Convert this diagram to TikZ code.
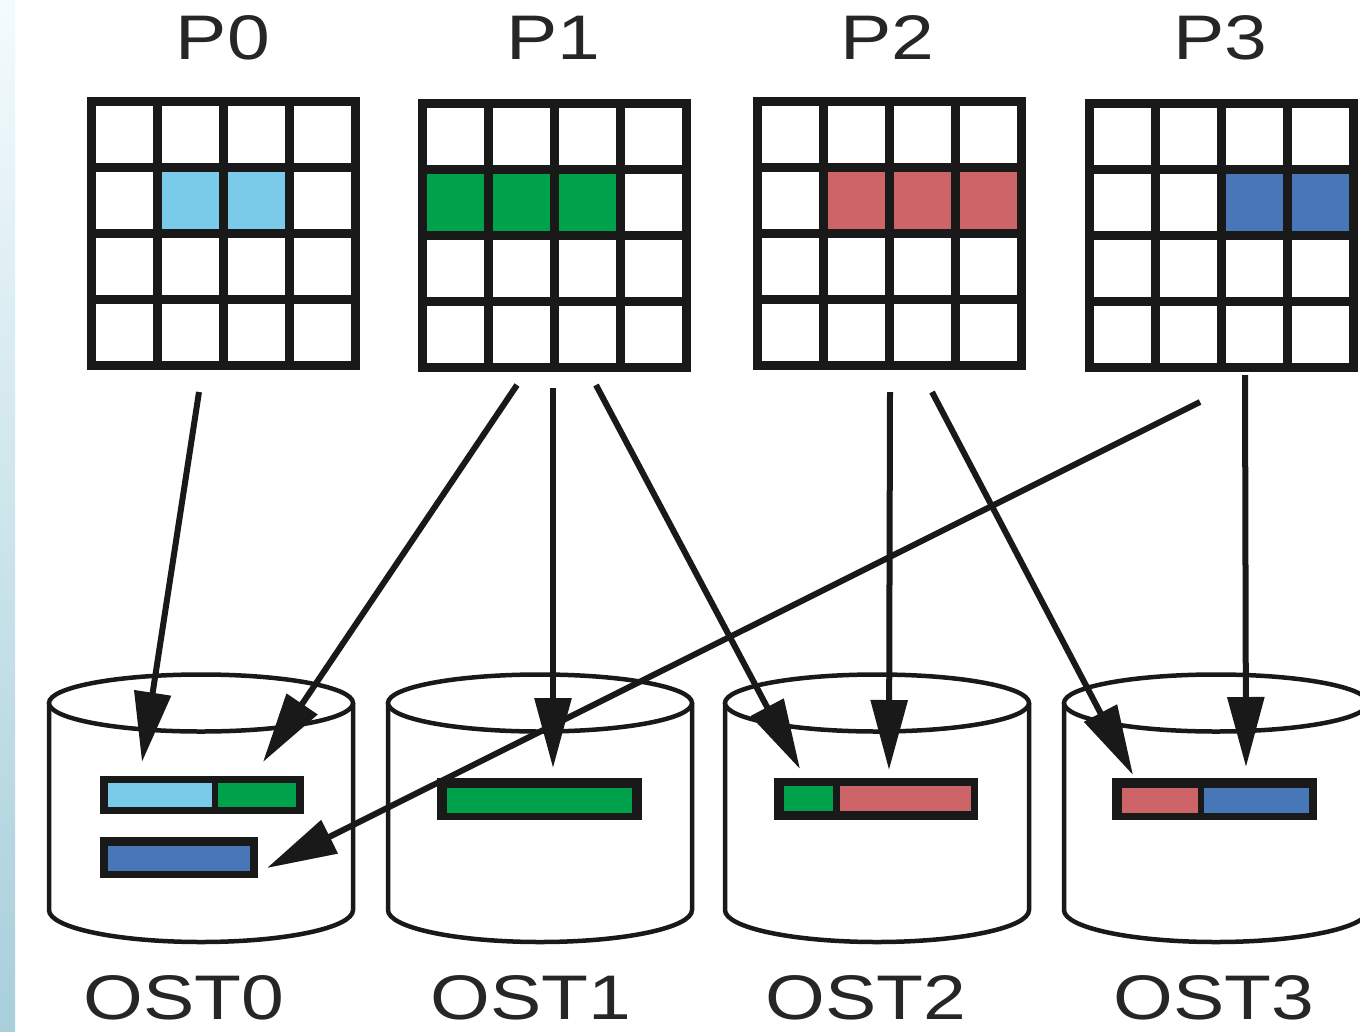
\documentclass[tikz,border=0pt]{standalone}
\usepackage{fontspec}
\setmainfont{Liberation Sans}
\usepackage{xcolor}
\usetikzlibrary{arrows.meta}

\definecolor{lightcell}{HTML}{7ACBEA}
\definecolor{greencell}{HTML}{00A14B}
\definecolor{redcell}{HTML}{CC6468}
\definecolor{bluecell}{HTML}{4777B6}
\definecolor{striptop}{HTML}{F3FBFD}
\definecolor{stripmid}{HTML}{EAF5F8}
\definecolor{stripbot}{HTML}{A8CFDB}

\tikzset{
  gridline/.style={line width=8.5pt, draw=black!90},
  disk/.style={line width=4.5pt, draw=black!90},
  flow/.style={line width=6pt, draw=black!90, -{Triangle[length=70pt, width=36pt]}},
  plabel/.style={font=\fontsize{63}{70}\selectfont, text=black!85, xscale=1.22},
}

\begin{document}
\begin{tikzpicture}[x=1pt, y=-1pt]

\useasboundingbox (0,0) rectangle (1360,1031);
\fill[white] (0,0) rectangle (1360,1031);

% left edge strip
\shade[top color=striptop, middle color=stripmid, bottom color=stripbot] (0,0) rectangle (15,1031);

\pgfmathsetmacro{\pitch}{66}
\pgfmathsetmacro{\half}{4.25}

% coloured cells of each process
\foreach \gx/\gy/\first/\last/\clr in {87/97/1/2/lightcell, 418/99/0/2/greencell, 753/97/1/3/redcell, 1085/99/2/3/bluecell} {
  \fill[\clr] (\gx+\half+\first*\pitch, \gy+\half+\pitch) rectangle (\gx+\half+\last*\pitch+\pitch, \gy+\half+2*\pitch);
}

% Draw the 4x4 grids
\foreach \gx/\gy in {87/97, 418/99, 753/97, 1085/99} {
  \foreach \k in {1,2,3} {
    \draw[gridline] (\gx+\half+\k*\pitch, \gy+\half) -- ++(0,4*\pitch);
    \draw[gridline] (\gx+\half, \gy+\half+\k*\pitch) -- ++(4*\pitch,0);
  }
  \draw[gridline] (\gx+\half, \gy+\half) rectangle ++(4*\pitch, 4*\pitch);
}

\node[plabel] (p0) at (223,38) {P0};
\node[plabel] (p1) at (553,38) {P1};
\node[plabel] (p2) at (887,38) {P2};
\node[plabel] (p3) at (1220,38) {P3};

% Draw the storage targets
\foreach \cx in {201, 540, 877, 1216} {
  \fill[white] (\cx-152,703) rectangle (\cx+152,910);
  \draw[disk, fill=white] (\cx-152,703) -- (\cx-152,910) arc[start angle=180, end angle=0, x radius=152, y radius=32] -- (\cx+152,703);
  \draw[disk, fill=white] (\cx,703) ellipse[x radius=152, y radius=28.5];
}

% stripes stored on each target
\fill[black!90] (100,776) rectangle (304,814);
\fill[lightcell] (108,783) rectangle (212,807);
\fill[greencell] (218,783) rectangle (296,807);

\fill[black!90] (100,837) rectangle (258,878);
\fill[bluecell] (108,846) rectangle (250,871);

\fill[black!90] (437,778) rectangle (642,820);
\fill[greencell] (447,788) rectangle (632,813);

\fill[black!90] (774,778) rectangle (978,820);
\fill[greencell] (784,786) rectangle (833,811);
\fill[redcell] (840,786) rectangle (971,811);

\fill[black!90] (1112,778) rectangle (1317,820);
\fill[redcell] (1122,788) rectangle (1198,813);
\fill[bluecell] (1204,788) rectangle (1309,813);

\node[plabel] (ost0) at (184,998) {OST0};
\node[plabel] (ost1) at (531,998) {OST1};
\node[plabel] (ost2) at (866,998) {OST2};
\node[plabel] (ost3) at (1214,998) {OST3};

% arrow ends
\coordinate (p0s) at (199,392);
\coordinate (p1l) at (517,385);
\coordinate (p1m) at (553,388);
\coordinate (p1r) at (596,385);
\coordinate (p2m) at (890,392);
\coordinate (p2r) at (932,392);
\coordinate (p3l) at (1200,402);
\coordinate (p3m) at (1245,375);

\coordinate (o0a) at (142,762);
\coordinate (o0b) at (263,762);
\coordinate (o0c) at (267,868);
\coordinate (o1a) at (553,768);
\coordinate (o2a) at (800,769);
\coordinate (o2b) at (889,770);
\coordinate (o3a) at (1133,775);
\coordinate (o3b) at (1246,767);

% Draw the writes
\draw[flow] (p0s) -- (o0a);
\draw[flow] (p1l) -- (o0b);
\draw[flow] (p1m) -- (o1a);
\draw[flow] (p1r) -- (o2a);
\draw[flow] (p2m) -- (o2b);
\draw[flow] (p2r) -- (o3a);
\draw[flow] (p3l) -- (o0c);
\draw[flow] (p3m) -- (o3b);

\end{tikzpicture}
\end{document}
